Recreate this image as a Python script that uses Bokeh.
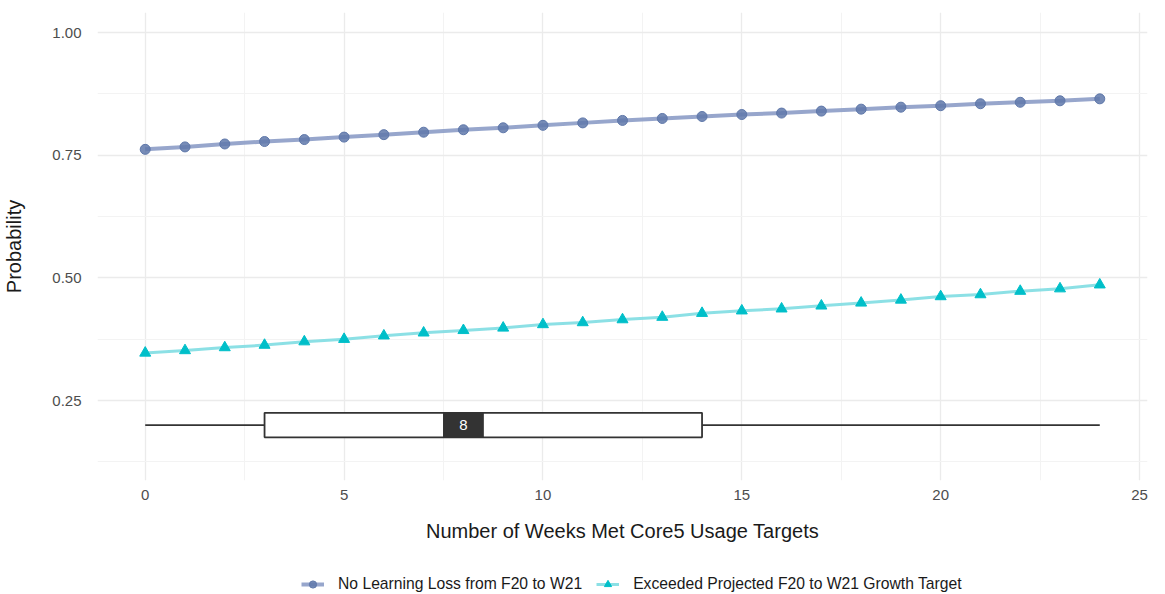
from bokeh.plotting import figure
from bokeh.layouts import column
from bokeh.models import Legend, LegendItem, Range1d, FixedTicker, ColumnDataSource
from bokeh.core.properties import value
from bokeh.embed import file_html
from bokeh.resources import INLINE

weeks = list(range(25))
no_loss = [0.762, 0.767, 0.773, 0.778, 0.782, 0.787, 0.792, 0.797, 0.802, 0.806,
           0.811, 0.816, 0.821, 0.825, 0.829, 0.833, 0.836, 0.840, 0.844, 0.848,
           0.851, 0.855, 0.858, 0.861, 0.865]
exceeded = [0.347, 0.352, 0.358, 0.363, 0.370, 0.375, 0.382, 0.388, 0.393, 0.398,
            0.405, 0.409, 0.415, 0.420, 0.428, 0.433, 0.437, 0.443, 0.449, 0.455,
            0.462, 0.466, 0.473, 0.478, 0.486]
series_names = ["No Learning Loss from F20 to W21",
                "Exceeded Projected F20 to W21 Growth Target"]
# boxplot of weeks met targets
box_min, box_q1, box_median, box_q3, box_max = 0, 3, 8, 14, 24
box_level = 0.2
x_ticks = [0, 5, 10, 15, 20, 25]
y_ticks = [0.25, 0.50, 0.75, 1.00]
y_tick_labels = {0.25: "0.25", 0.5: "0.50", 0.75: "0.75", 1.0: "1.00"}

FONT = "Liberation Sans"
BLUE = "#5f78aa"
BLUE_LINE = "#8597c3"
CYAN = "#00bfc9"
CYAN_LINE = "#78dbe1"
GRID = "#ebebeb"

p = figure(width=1149, height=566, output_backend="svg", toolbar_location=None,
           x_range=Range1d(-1.2, 25.2), y_range=Range1d(0.087, 1.041),
           min_border_left=90, min_border_right=2, min_border_top=12,
           min_border_bottom=86)
p.outline_line_color = None
p.background_fill_color = "white"

for ax in (p.xaxis[0], p.yaxis[0]):
    ax.axis_line_color = None
    ax.major_tick_line_color = None
    ax.minor_tick_line_color = None
    ax.major_label_text_font = FONT
    ax.major_label_text_font_size = "15px"
    ax.major_label_text_color = "#4d4d4d"
    ax.axis_label_text_font = FONT
    ax.axis_label_text_font_size = "20px"
    ax.axis_label_text_font_style = "normal"
    ax.axis_label_text_color = "#1a1a1a"

p.xaxis.ticker = FixedTicker(ticks=x_ticks, minor_ticks=[2.5, 7.5, 12.5, 17.5, 22.5])
p.yaxis.ticker = FixedTicker(ticks=y_ticks, minor_ticks=[0.125, 0.375, 0.625, 0.875])
p.yaxis.major_label_overrides = y_tick_labels
p.xaxis.axis_label = "Number of Weeks Met Core5 Usage Targets"
p.yaxis.axis_label = "Probability"
p.xaxis.major_label_standoff = 3
p.xaxis.axis_label_standoff = 17
p.yaxis.major_label_standoff = 10
p.yaxis.axis_label_standoff = 24

p.xgrid.grid_line_color = GRID
p.ygrid.grid_line_color = GRID
p.xgrid.grid_line_width = 1.3
p.ygrid.grid_line_width = 1.3
p.xgrid.minor_grid_line_color = "#f3f3f3"
p.ygrid.minor_grid_line_color = "#f3f3f3"
p.xgrid.minor_grid_line_width = 1
p.ygrid.minor_grid_line_width = 1

# boxplot
p.segment(x0=[box_min, box_q3], y0=[box_level, box_level],
          x1=[box_q1, box_max], y1=[box_level, box_level],
          line_color="#333333", line_width=1.8)
p.quad(left=[box_q1], right=[box_q3], bottom=[box_level - 0.025], top=[box_level + 0.025],
       fill_color="white", line_color="#333333", line_width=1.8)
p.quad(left=[box_median - 0.5], right=[box_median + 0.5],
       bottom=[box_level - 0.025], top=[box_level + 0.025],
       fill_color="#333333", line_color="#333333", line_width=1)
p.text(x=[box_median], y=[box_level], text=[str(box_median)],
       text_align="center", text_baseline="middle", text_color="white",
       text_font=value(FONT), text_font_size="15px")

# series
src1 = ColumnDataSource(dict(x=weeks, y=no_loss))
src2 = ColumnDataSource(dict(x=weeks, y=exceeded))
p.line("x", "y", source=src1, line_color=BLUE_LINE, line_width=4, line_alpha=0.85)
p.scatter("x", "y", source=src1, marker="circle", size=10, fill_color=BLUE,
          line_color=BLUE, fill_alpha=0.85)
p.line("x", "y", source=src2, line_color=CYAN_LINE, line_width=3, line_alpha=0.85)
p.scatter("x", "y", source=src2, marker="triangle", size=11, fill_color=CYAN,
          line_color=CYAN)

# legend strip below the chart (its renderers hold only off-screen placeholders)
lg = figure(width=1149, height=28, output_backend="svg", toolbar_location=None,
            x_range=Range1d(0, 1), y_range=Range1d(0, 1),
            min_border_left=0, min_border_right=0, min_border_top=0, min_border_bottom=0)
lg.axis.visible = False
lg.grid.visible = False
lg.outline_line_color = None
offscreen = ColumnDataSource(dict(x=[-5, -4], y=[-5, -4]))
e1 = lg.line("x", "y", source=offscreen, line_color=BLUE_LINE, line_width=4, line_alpha=0.85)
f1 = lg.scatter("x", "y", source=offscreen, marker="circle", size=10, fill_color=BLUE,
                line_color=BLUE, fill_alpha=0.85)
e2 = lg.line("x", "y", source=offscreen, line_color=CYAN_LINE, line_width=3, line_alpha=0.85)
f2 = lg.scatter("x", "y", source=offscreen, marker="triangle", size=11, fill_color=CYAN,
                line_color=CYAN)
legend = Legend(items=[LegendItem(label=series_names[0], renderers=[e1, f1], index=0),
                       LegendItem(label=series_names[1], renderers=[e2, f2], index=0)],
                orientation="horizontal", location=(204, 1),
                label_text_font=FONT, label_text_font_size="15.7px",
                label_text_color="#1a1a1a", border_line_color=None,
                background_fill_alpha=0, glyph_width=23, glyph_height=18,
                spacing=14, padding=2, margin=0, label_standoff=14)
lg.add_layout(legend, "center")

layout = column(p, lg, spacing=0)
open("out.html", "w").write(file_html(layout, INLINE))
